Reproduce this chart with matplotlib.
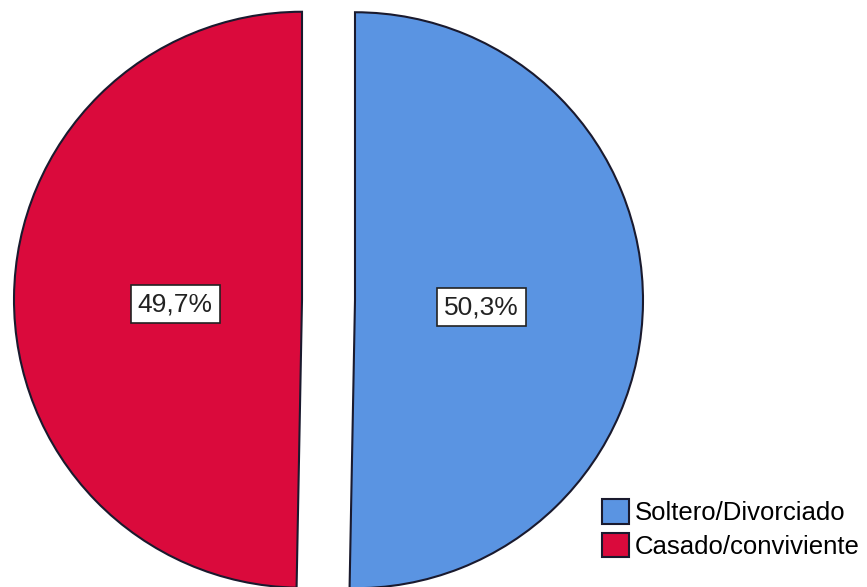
import numpy as np
import matplotlib.pyplot as plt

labels = ['Soltero/Divorciado', 'Casado/conviviente']
values = [50.3, 49.7]
pct_text = ['50,3%', '49,7%']
colors = ['#5A94E2', '#DA0A3C']

fig = plt.figure(figsize=(8.67, 5.87), dpi=100)
ax = fig.add_axes([0, 0, 1, 1])

wedges, _ = ax.pie(values, colors=colors, startangle=90, counterclock=False,
                   explode=[0.092, 0.092],
                   wedgeprops=dict(edgecolor='#1a1a2e', linewidth=1.5))

# percentage labels inside slices, in white boxes
for w, t in zip(wedges, pct_text):
    ang = np.deg2rad((w.theta1 + w.theta2) / 2)
    cx, cy = w.center
    ax.text(cx + 0.44 * np.cos(ang), cy + 0.44 * np.sin(ang) - 0.02, t,
            ha='center', va='center', fontsize=19, family='Liberation Sans',
            color='#222222',
            bbox=dict(boxstyle='square,pad=0.27', fc='white', ec='#222222', lw=1.2))

ax.set_xlim(-328.5 / 288, (867 - 328.5) / 288)
ax.set_ylim(-287 / 288, 300 / 288)
ax.set_aspect('auto')
ax.axis('off')

leg = ax.legend(wedges, labels, loc='lower right', bbox_to_anchor=(1.0, 0.035),
                frameon=False, prop={'family': 'Liberation Sans', 'size': 18.5},
                handlelength=1.05, handleheight=1.1, labelspacing=0.3,
                handletextpad=0.2, borderaxespad=0.0, borderpad=0.3)

fig.savefig('out.png', dpi=100)
